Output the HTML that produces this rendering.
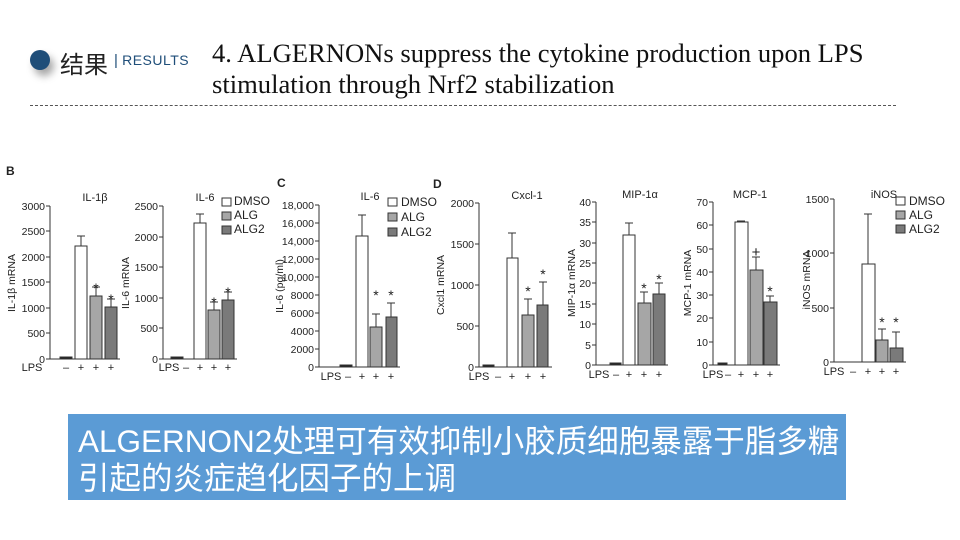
<!DOCTYPE html>
<html><head><meta charset="utf-8"><style>
body{margin:0;width:960px;height:540px;background:#fff;overflow:hidden;position:relative;font-family:"Liberation Sans","Noto Sans CJK SC",sans-serif}
.t{position:absolute;left:212px;top:38px;font-family:"Liberation Serif",serif;font-size:26.6px;line-height:31px;color:#111;white-space:nowrap}
.box{position:absolute;left:68px;top:414px;width:778px;height:86px;background:#5b9bd5;color:#fff;font-size:31.5px;line-height:37px;padding:9px 0 0 10px;box-sizing:border-box;white-space:nowrap}
</style></head><body>
<div style="position:absolute;left:30px;top:50px;width:20px;height:20px;border-radius:50%;background:#1f4e79;box-shadow:4px 6px 8px rgba(0,0,0,.35)"></div>
<div style="position:absolute;left:60px;top:45px;font-size:24px;color:#222">结果</div>
<div style="position:absolute;left:114px;top:52px;font-size:15px;color:#1f4e79">|&nbsp;<span style="font-size:14px;letter-spacing:.5px">RESULTS</span></div>
<div class="t">4. ALGERNONs suppress the cytokine production upon LPS<br>stimulation through Nrf2 stabilization</div>
<div style="position:absolute;left:30px;top:105px;width:866px;border-top:1px dashed #555"></div>
<svg width="960" height="540" style="position:absolute;left:0;top:0" font-family="Liberation Sans, sans-serif" font-size="10.5" fill="#222">
<g stroke="#333" stroke-width="1">
<path d="M50 206V359H120M46 206H50M46 231H50M46 257H50M46 282H50M46 308H50M46 333H50M46 359H50" fill="none"/>
<path d="M81 246V236M77 236H85M96 296V287M92 287H100M111 307V299M107 299H115" fill="none"/>
<rect x="60" y="357" width="12" height="2" fill="#222"/>
<rect x="75" y="246" width="12" height="113" fill="#fff"/>
<rect x="90" y="296" width="12" height="63" fill="#a6a6a6"/>
<rect x="105" y="307" width="12" height="52" fill="#7a7a7a"/>
<path d="M163 206V359H237M159 206H163M159 237H163M159 267H163M159 298H163M159 328H163M159 359H163" fill="none"/>
<path d="M200 223V214M196 214H204M214 310V302M210 302H218M228 300V292M224 292H232" fill="none"/>
<rect x="171" y="357" width="12" height="2" fill="#222"/>
<rect x="194" y="223" width="12" height="136" fill="#fff"/>
<rect x="208" y="310" width="12" height="49" fill="#a6a6a6"/>
<rect x="222" y="300" width="12" height="59" fill="#7a7a7a"/>
<rect x="222" y="198" width="9" height="8" fill="#fff"/><rect x="222" y="212" width="9" height="8" fill="#a6a6a6"/><rect x="222" y="226" width="9" height="8" fill="#7a7a7a"/>
<path d="M319 205V367H400M315 205H319M315 223H319M315 241H319M315 259H319M315 277H319M315 295H319M315 313H319M315 331H319M315 349H319M315 367H319" fill="none"/>
<path d="M362 236V215M358 215H366M376 327V314M372 314H380M391 317V303M387 303H395" fill="none"/>
<rect x="340" y="365" width="12" height="2" fill="#222"/>
<rect x="356" y="236" width="12" height="131" fill="#fff"/>
<rect x="370" y="327" width="12" height="40" fill="#a6a6a6"/>
<rect x="386" y="317" width="11" height="50" fill="#7a7a7a"/>
<rect x="388" y="198" width="9" height="8" fill="#fff"/><rect x="388" y="213" width="9" height="8" fill="#a6a6a6"/><rect x="388" y="228" width="9" height="8" fill="#7a7a7a"/>
<path d="M479 203V367H552M475 203H479M475 244H479M475 285H479M475 326H479M475 367H479" fill="none"/>
<path d="M512 258V233M508 233H516M528 315V299M524 299H532M543 305V282M539 282H547" fill="none"/>
<rect x="483" y="365" width="11" height="2" fill="#222"/>
<rect x="507" y="258" width="11" height="109" fill="#fff"/>
<rect x="522" y="315" width="12" height="52" fill="#a6a6a6"/>
<rect x="537" y="305" width="11" height="62" fill="#7a7a7a"/>
<path d="M596 202V365H668M592 202H596M592 222H596M592 243H596M592 263H596M592 283H596M592 304H596M592 324H596M592 345H596M592 365H596" fill="none"/>
<path d="M629 235V223M625 223H633M644 303V292M640 292H648M659 294V283M655 283H663" fill="none"/>
<rect x="610" y="363" width="11" height="2" fill="#222"/>
<rect x="623" y="235" width="12" height="130" fill="#fff"/>
<rect x="638" y="303" width="13" height="62" fill="#a6a6a6"/>
<rect x="653" y="294" width="12" height="71" fill="#7a7a7a"/>
<path d="M713 202V365H780M709 202H713M709 225H713M709 249H713M709 272H713M709 295H713M709 318H713M709 342H713M709 365H713" fill="none"/>
<path d="M741 222V221M737 221H745M756 270V257M752 257H760M770 302V296M766 296H774" fill="none"/>
<rect x="718" y="363" width="9" height="2" fill="#222"/>
<rect x="735" y="222" width="13" height="143" fill="#fff"/>
<rect x="750" y="270" width="13" height="95" fill="#a6a6a6"/>
<rect x="764" y="302" width="13" height="63" fill="#7a7a7a"/>
<path d="M834 199V362H906M830 199H834M830 253H834M830 308H834M830 362H834" fill="none"/>
<path d="M868 264V214M864 214H872M882 340V329M878 329H886M896 348V332M892 332H900" fill="none"/>
<rect x="862" y="264" width="13" height="98" fill="#fff"/>
<rect x="876" y="340" width="12" height="22" fill="#a6a6a6"/>
<rect x="890" y="348" width="13" height="14" fill="#7a7a7a"/>
<rect x="896" y="197" width="9" height="8" fill="#fff"/><rect x="896" y="211" width="9" height="8" fill="#a6a6a6"/><rect x="896" y="225" width="9" height="8" fill="#7a7a7a"/>
</g>
<g font-weight="bold" font-size="12"><text x="6" y="175">B</text><text x="277" y="187">C</text><text x="433" y="188">D</text></g>
<g text-anchor="end">
<text x="45" y="210">3000</text><text x="45" y="235">2500</text><text x="45" y="261">2000</text><text x="45" y="286">1500</text><text x="45" y="312">1000</text><text x="45" y="337">500</text><text x="45" y="363">0</text>
<text x="158" y="210">2500</text><text x="158" y="241">2000</text><text x="158" y="271">1500</text><text x="158" y="302">1000</text><text x="158" y="332">500</text><text x="158" y="363">0</text>
<text x="314" y="209">18,000</text><text x="314" y="227">16,000</text><text x="314" y="245">14,000</text><text x="314" y="263">12,000</text><text x="314" y="281">10,000</text><text x="314" y="299">8000</text><text x="314" y="317">6000</text><text x="314" y="335">4000</text><text x="314" y="353">2000</text><text x="314" y="371">0</text>
<text x="474" y="207">2000</text><text x="474" y="248">1500</text><text x="474" y="289">1000</text><text x="474" y="330">500</text><text x="474" y="371">0</text>
<text x="591" y="206">40</text><text x="591" y="226">35</text><text x="591" y="247">30</text><text x="591" y="267">25</text><text x="591" y="287">20</text><text x="591" y="308">15</text><text x="591" y="328">10</text><text x="591" y="349">5</text><text x="591" y="369">0</text>
<text x="708" y="206">70</text><text x="708" y="229">60</text><text x="708" y="253">50</text><text x="708" y="276">40</text><text x="708" y="299">30</text><text x="708" y="322">20</text><text x="708" y="346">10</text><text x="708" y="369">0</text>
<text x="829" y="203">1500</text><text x="829" y="257">1000</text><text x="829" y="312">500</text><text x="829" y="366">0</text>
</g>
<g text-anchor="middle" font-size="11">
<text x="95" y="201">IL-1β</text><text x="205" y="201">IL-6</text><text x="370" y="200">IL-6</text><text x="527" y="199">Cxcl-1</text><text x="640" y="198">MIP-1α</text><text x="750" y="198">MCP-1</text><text x="884" y="198">iNOS</text>
</g>
<g text-anchor="middle" font-size="14">
<text x="96" y="293">*</text><text x="111" y="304">*</text><text x="214" y="307">*</text><text x="228" y="297">*</text><text x="376" y="300">*</text><text x="391" y="300">*</text>
<text x="528" y="296">*</text><text x="543" y="279">*</text><text x="644" y="293">*</text><text x="659" y="284">*</text><text x="756" y="257" font-size="15">+</text><text x="770" y="296">*</text><text x="882" y="327">*</text><text x="896" y="327">*</text>
</g>
<g text-anchor="middle" font-size="11">
<text x="32" y="371">LPS</text><text x="66" y="371">–</text><text x="81" y="371">+</text><text x="96" y="371">+</text><text x="111" y="371">+</text>
<text x="169" y="371">LPS</text><text x="186" y="371">–</text><text x="200" y="371">+</text><text x="214" y="371">+</text><text x="228" y="371">+</text>
<text x="331" y="380">LPS</text><text x="348" y="380">–</text><text x="362" y="380">+</text><text x="376" y="380">+</text><text x="391" y="380">+</text>
<text x="479" y="380">LPS</text><text x="498" y="380">–</text><text x="512" y="380">+</text><text x="528" y="380">+</text><text x="543" y="380">+</text>
<text x="599" y="378">LPS</text><text x="616" y="378">–</text><text x="629" y="378">+</text><text x="644" y="378">+</text><text x="659" y="378">+</text>
<text x="713" y="378">LPS</text><text x="728" y="378">–</text><text x="741" y="378">+</text><text x="756" y="378">+</text><text x="770" y="378">+</text>
<text x="834" y="375">LPS</text><text x="853" y="375">–</text><text x="868" y="375">+</text><text x="882" y="375">+</text><text x="896" y="375">+</text>
</g>
<g font-size="12">
<text x="234" y="205">DMSO</text><text x="234" y="219">ALG</text><text x="234" y="233">ALG2</text>
<text x="401" y="206">DMSO</text><text x="401" y="221">ALG</text><text x="401" y="236">ALG2</text>
<text x="909" y="205">DMSO</text><text x="909" y="219">ALG</text><text x="909" y="233">ALG2</text>
</g>
<g text-anchor="middle" font-size="10.5">
<text transform="translate(15,283) rotate(-90)">IL-1β  mRNA</text>
<text transform="translate(129,283) rotate(-90)">IL-6  mRNA</text>
<text transform="translate(283,286) rotate(-90)">IL-6 (pg/ml)</text>
<text transform="translate(444,285) rotate(-90)">Cxcl1  mRNA</text>
<text transform="translate(575,283) rotate(-90)">MIP-1α  mRNA</text>
<text transform="translate(691,283) rotate(-90)">MCP-1  mRNA</text>
<text transform="translate(810,280) rotate(-90)">iNOS  mRNA</text>
</g>
</svg>
<div class="box">ALGERNON2处理可有效抑制小胶质细胞暴露于脂多糖<br>引起的炎症趋化因子的上调</div>
</body></html>
